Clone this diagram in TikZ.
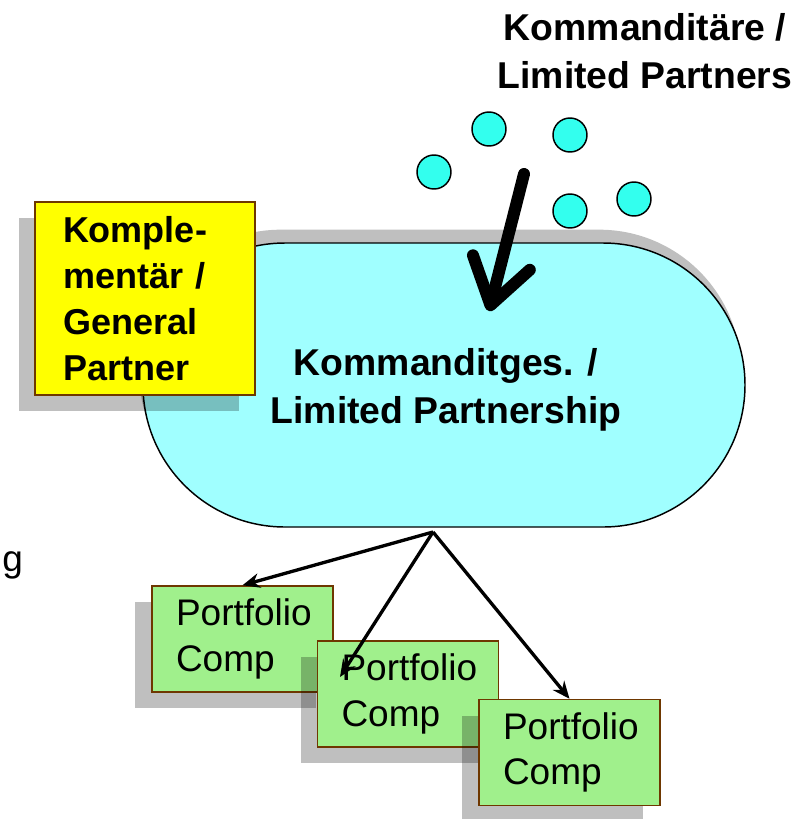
\documentclass[tikz,border=0pt]{standalone}
\usepackage{fontspec}
\setmainfont{Liberation Sans}
\usetikzlibrary{arrows.meta,shadows}

\definecolor{pillcyan}{RGB}{160,255,255}
\definecolor{lpcyan}{RGB}{51,255,238}
\definecolor{gpyellow}{RGB}{255,255,0}
\definecolor{pcgreen}{RGB}{160,240,140}
\definecolor{boxbrown}{RGB}{110,55,0}

\newcommand{\lpbold}{\fontsize{28}{36}\selectfont\bfseries}
\newcommand{\gpbold}{\fontsize{27}{34.5}\selectfont\bfseries}
\newcommand{\lpplain}{\fontsize{27.75}{34}\selectfont}

\tikzset{
  pill/.style={draw, fill=pillcyan, line width=1.1pt, rounded corners=106.5pt,
    minimum width=451.5pt, minimum height=213pt,
    drop shadow={shadow xshift=-3pt, shadow yshift=10pt, fill=black, opacity=.25}},
  gpbox/.style={draw=boxbrown, fill=gpyellow, line width=1.1pt,
    minimum height=144.75pt, text width=123pt, inner xsep=21pt, align=left, font=\gpbold,
    drop shadow={shadow xshift=-12pt, shadow yshift=-12pt, fill=black, opacity=.25}},
  pcbox/.style={draw=boxbrown, fill=pcgreen, line width=1.1pt,
    minimum height=79.5pt, text width=99.75pt, inner xsep=18pt, align=left, font=\lpplain,
    drop shadow={shadow xshift=-12.75pt, shadow yshift=-12pt, fill=black, opacity=.25}},
  lpdot/.style={circle, draw, fill=lpcyan, line width=1.1pt, minimum size=25.5pt, inner sep=0pt},
  flow/.style={-{Stealth[length=13pt,width=11pt]}, line width=2.5pt},
}

\begin{document}
\begin{tikzpicture}[x=0.75pt,y=-0.75pt]
\useasboundingbox (0,0) rectangle (807,819);

% limited partnership and general partner
\node[pill] (kg) at (444,385) {};
\node[align=center, font=\lpbold] (kgtext) at (446,390) {Kommanditges. /\\Limited Partnership};
\node[gpbox] (gp) at (145,298.5) {Komple-\\mentär /\\General\\Partner};

% limited partners
\node[anchor=north, inner sep=0pt, align=center, font=\lpbold] (lptext) at (645,13)
  {Kommanditäre /\\Limited Partners};
\node[lpdot] (lp1) at (434,172) {};
\node[lpdot] (lp2) at (489,129) {};
\node[lpdot] (lp3) at (570,135) {};
\node[lpdot] (lp4) at (570,211) {};
\node[lpdot] (lp5) at (634,199) {};
\coordinate (lpfrom) at (524,174);
\coordinate (lpto) at (489,311);
\draw[line width=9pt, line cap=round, -{Straight Barb[length=33pt,width=44pt,round]}] (lpfrom) -- (lpto);

% cut-off text on the left
\node[anchor=base west, inner sep=0pt, font=\lpplain] (cut) at (2,571) {g};

% portfolio companies
\node[pcbox] (pc1) at (242.5,639) {Portfolio\\Comp};
\node[pcbox] (pc2) at (408,694) {Portfolio\\Comp};
\node[pcbox] (pc3) at (569.5,752.5) {Portfolio\\Comp};

\coordinate (apex) at (433,532);
\coordinate (pc2end) at (340,677);
\draw[flow] (apex) -- (pc1.north);
\draw[flow] (apex) -- (pc2end);
\draw[flow] (apex) -- (pc3.north);
\end{tikzpicture}
\end{document}
